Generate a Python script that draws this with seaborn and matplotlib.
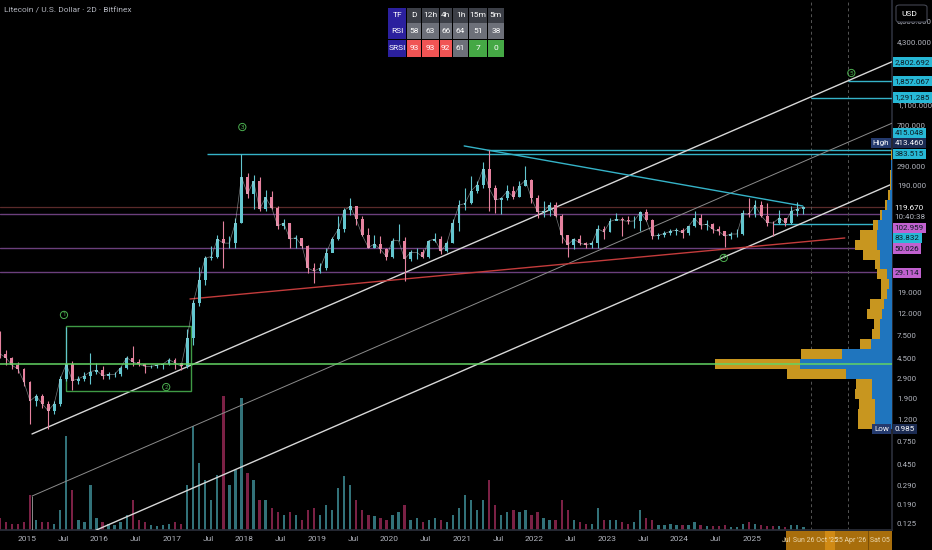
import numpy as np
import pandas as pd
import matplotlib
matplotlib.use("Agg")
import matplotlib.pyplot as plt
import seaborn as sns
from matplotlib.patches import Rectangle, FancyBboxPatch

# ---------------- data ----------------
start_month = "2014-08-01"
end_month = "2025-09-01"

close = [5.0, 4.6, 3.9, 3.6, 2.7,
         1.8, 2.0, 1.7, 1.45, 1.7, 2.9, 4.0, 2.8, 2.9, 3.1, 3.4, 3.5,
         3.1, 3.2, 3.2, 3.7, 4.6, 4.2, 4.0, 3.8, 3.8, 3.9, 4.0, 4.4,
         4.1, 3.8, 7.0, 15.0, 25, 40, 41, 60, 55, 55, 86, 230,
         160, 210, 115, 148, 118, 80, 85, 60, 62, 52, 32, 30,
         32, 44, 60, 74, 112, 122, 92, 65, 50, 54, 48, 41,
         58, 58, 39, 45, 45, 41, 58, 60, 46, 55, 85, 125,
         130, 170, 195, 275, 180, 140, 145, 170, 150, 190, 215, 145,
         108, 110, 125, 100, 65, 53, 60, 55, 53, 55, 75, 70,
         88, 92, 90, 88, 89, 107, 90, 64, 65, 68, 71, 73,
         69, 79, 94, 81, 83, 74, 71, 64, 67, 67, 105, 103,
         125, 100, 86, 85, 95, 86, 110, 115, 119.67]
high = [8.2, 5.4, 4.7, 4.2, 3.7,
        2.8, 2.1, 2.1, 1.8, 1.8, 3.1, 8.9, 4.3, 3.1, 3.4, 5.1, 4.1,
        3.8, 3.4, 3.4, 3.8, 4.8, 5.9, 4.5, 4.0, 3.9, 4.0, 4.1, 4.6,
        4.6, 4.0, 8.5, 16, 33, 42, 52, 66, 88, 64, 95, 383.5,
        250, 240, 230, 175, 170, 122, 92, 86, 66, 60, 53, 36,
        36, 50, 63, 98, 118, 145, 124, 100, 76, 65, 64, 50,
        62, 84, 63, 47, 49, 48, 59, 68, 64, 58, 92, 140,
        180, 238, 210, 320, 413.46, 195, 150, 192, 190, 210, 295, 223,
        155, 138, 135, 134, 103, 63, 62, 65, 56, 57, 82, 80,
        94, 105, 97, 100, 98, 111, 114, 92, 68, 72, 75, 77,
        77, 80, 110, 104, 90, 85, 79, 72, 70, 74, 112, 147,
        140, 137, 130, 89, 112, 95, 124, 134, 122]
low = [4.6, 3.9, 3.6, 3.3, 2.5,
       1.1, 1.6, 1.55, 0.985, 1.35, 1.6, 2.8, 2.3, 2.6, 2.8, 2.6, 3.2,
       2.9, 2.9, 3.0, 3.1, 3.6, 3.8, 3.8, 3.3, 3.7, 3.7, 3.6, 3.9,
       3.6, 3.5, 3.7, 6.0, 14, 22, 38, 40, 32, 49, 50, 85,
       145, 115, 110, 110, 115, 75, 75, 50, 50, 49, 29, 23,
       29, 31, 45, 59, 70, 101, 82, 64, 49, 49, 44, 38,
       40, 57, 24, 37, 39, 40, 40, 56, 43, 45, 55, 72,
       112, 128, 164, 180, 110, 105, 104, 140, 142, 150, 190, 130,
       95, 97, 100, 97, 55, 41, 48, 53, 50, 50, 50, 60,
       70, 90, 64, 84, 77, 71, 88, 60, 60, 63, 66, 66,
       61, 66, 78, 75, 73, 68, 65, 51, 60, 63, 65, 97,
       96, 96, 80, 64, 84, 79, 84, 100, 104]
volume = [12, 8, 6, 6, 8,
          35, 10, 8, 8, 6, 20, 94, 40, 10, 8, 45, 12,
          8, 6, 5, 8, 15, 30, 10, 8, 5, 4, 5, 6,
          8, 6, 45, 104, 67, 50, 30, 55, 134, 45, 60, 132,
          57, 50, 30, 30, 22, 18, 15, 18, 15, 10, 20, 22,
          15, 25, 20, 42, 54, 45, 30, 20, 15, 14, 12, 10,
          15, 18, 25, 10, 12, 8, 10, 12, 10, 8, 15, 22,
          35, 30, 20, 30, 50, 25, 15, 18, 20, 18, 20, 15,
          18, 12, 10, 10, 30, 20, 10, 8, 6, 6, 22, 10,
          10, 10, 8, 6, 8, 20, 12, 10, 5, 5, 6, 5,
          5, 5, 8, 5, 4, 4, 4, 5, 3, 3, 6, 8,
          6, 5, 4, 4, 4, 3, 5, 5, 3]
first_open = 7.5

# volume profile (28 log rows from the low to the high)
vp_low, vp_high = 0.985, 413.46
vp_up = [17, 17, 17, 20, 20, 46, 92, 50, 21, 12, 12, 10, 8, 5,
         3, 5, 12, 12, 15, 15, 14, 10, 5, 2, 1.2, 0.8, 0.6, 0.5]
vp_down = [17, 17, 16, 17, 16, 59, 85, 41, 11, 8, 6, 15, 14, 6,
           8, 10, 5, 17, 22, 17, 5, 2, 2, 2, 1.0, 1.0, 0.6, 0.4]

# horizontal levels
purple_levels = [102.959, 50.026, 29.114]
current_price = 119.670
green_level = 4.0
cyan_2017_high = 383.515
cyan_2021_high = 413.460
cyan_support = 83.832
target_1 = 1291.285
target_2 = 1857.067
target_top = 2802.692
target_mid = 415.048

# drawn trend lines (decimal year, price)
channel_top = [(2015.069, 0.879), (2026.931, 2802.692)]
channel_mid = [(2015.069, 0.229), (2026.931, 740.0)]
channel_bot = [(2015.069, 0.0598), (2026.931, 198.0)]
red_line = [(2017.248, 16.4), (2026.28, 61.5)]
cyan_down = [(2021.03, 452.0), (2025.70, 123.0)]
box1 = [(2015.538, 2.23), (2017.262, 9.13)]
wave_labels = ["1", "2", "3", "4", "5"]
wave_pos = [(2015.51, 11.6), (2016.92, 2.43), (2017.97, 681), (2024.61, 39.9), (2026.37, 2196)]
dash_dates = [2025.82, 2026.32]
start_2017h, start_2021h, start_support = 2017.48, 2021.35, 2025.29

right_ticks = [6800, 4300, 1100, 700, 290, 190, 19, 12, 7.5, 4.5, 2.9, 1.9, 1.2,
               0.75, 0.45, 0.29, 0.19, 0.125]
x_tick_years = list(range(2015, 2026))

tf_cols = ["D", "12h", "4h", "1h", "15m", "5m"]
rsi_vals = [58, 63, 66, 64, 51, 38]
srsi_vals = [93, 93, 92, 61, 7, 0]

date_strip = ["Jul", "Sun 26 Oct '25", "25 Apr '26", "Sat 05"]

# ---------------- style ----------------
sns.set_theme(style="dark")
plt.rcParams["font.family"] = ["Liberation Sans Narrow", "Roboto", "DejaVu Sans"]
BG = "#000000"
TXT = "#b2b5be"
FS = 6.0
W, H = 932, 550
fig = plt.figure(figsize=(W / 100, H / 100), dpi=100, facecolor=BG)
ax_right_px, ax_bottom_px = 892, 530
ax = fig.add_axes([0, (H - ax_bottom_px) / H, ax_right_px / W, ax_bottom_px / H])
ax2 = ax.twinx()
ax.set_zorder(2)
ax2.set_zorder(1)
ax.patch.set_visible(False)
ax2.axis("off")

months = pd.date_range(start_month, end_month, freq="MS")
t = np.array(months.year + (months.month - 1) / 12 + 0.5 / 12)
close_a = np.array(close)
open_a = np.concatenate([[first_open], close_a[:-1]])
up = close_a >= open_a
UPC, DNC = "#63c6cf", "#e6829f"
cols = np.where(up, UPC, DNC)

# volume (behind)
vcols = np.where(up, "#3f8f98", "#9b2a57")
ax2.bar(t, volume, width=0.032, color=vcols, alpha=0.8, linewidth=0)
ax2.set_ylim(0, 530)

XL = (2014.6276, 2026.931)
YL = (0.1097, 10686)

# lines
ax.set_yscale("log")
for p in purple_levels:
    ax.axhline(p, color="#6b3f7c", lw=1.0, zorder=1)
ax.axhline(current_price, color="#5a2a2a", lw=0.9, zorder=1)
ax.axhline(green_level, color="#63d463", lw=1.1, zorder=7)
ax.hlines(cyan_2017_high, start_2017h, XL[1], color="#35b3c8", lw=1.0, zorder=3)
ax.hlines(cyan_2021_high, start_2021h, XL[1], color="#35b3c8", lw=1.0, zorder=3)
ax.hlines(cyan_support, start_support, XL[1], color="#35b3c8", lw=1.0, zorder=3)
ax.hlines(target_1, dash_dates[0], XL[1], color="#35b3c8", lw=1.0, zorder=3)
ax.hlines(target_2, dash_dates[1], XL[1], color="#35b3c8", lw=1.0, zorder=3)
for d in dash_dates:
    ax.axvline(d, color="#555555", lw=0.7, ls=(0, (3, 3)), zorder=1)

def seg(pts, **kw):
    (x0, y0), (x1, y1) = pts
    ax.plot([x0, x1], [y0, y1], **kw)

seg(channel_top, color="#d8d8d8", lw=1.0, zorder=3)
seg(channel_mid, color="#8c8c8c", lw=0.7, zorder=3)
seg(channel_bot, color="#d8d8d8", lw=1.0, zorder=3)
ax.vlines(channel_mid[0][0], YL[0], channel_mid[0][1], color="#8c8c8c", lw=0.7, zorder=3)
seg(red_line, color="#c43c3c", lw=1.0, zorder=3)
seg(cyan_down, color="#35b3c8", lw=1.0, zorder=3)
(bx0, by0), (bx1, by1) = box1
ax.add_patch(Rectangle((bx0, by0), bx1 - bx0, by1 - by0, fill=False, ec="#3f9a45", lw=1.0, zorder=3))

# candles
ax.vlines(t, low, high, color=cols, lw=0.8, zorder=4)
ax.bar(t, np.abs(close_a - open_a), bottom=np.minimum(open_a, close_a), width=0.04,
       color=cols, linewidth=0, zorder=4)
sns.lineplot(x=t, y=close_a, ax=ax, color="#cfd8dc", lw=0.5, alpha=0.55, zorder=4)

# volume profile
vp = ax.inset_axes([700 / ax_right_px, 0, 192 / ax_right_px, 1], sharey=ax, zorder=5)
vp.patch.set_visible(False)
edges = np.logspace(np.log10(vp_low), np.log10(vp_high), len(vp_up) + 1)
vp.barh(edges[:-1], vp_up, height=np.diff(edges), align="edge", color="#1f75be", linewidth=0)
vp.barh(edges[:-1], vp_down, left=vp_up, height=np.diff(edges), align="edge",
        color="#c8961f", linewidth=0)
vp.set_xlim(192, 0)
vp.axis("off")

# wave labels
for lab, (x, y) in zip(wave_labels, wave_pos):
    ax.text(x, y, lab, color="#4caf50", fontsize=4.5, ha="center", va="center", zorder=8,
            bbox=dict(boxstyle="circle,pad=0.18", fc="none", ec="#4caf50", lw=0.7))

ax.set_xlim(*XL)
ax.set_ylim(*YL)

# axes styling
ax.yaxis.tick_right()
ax.set_yticks(right_ticks)
ax.set_yticklabels([f"{v:,.3f}" for v in right_ticks])
ax.minorticks_off()
ax.tick_params(axis="y", length=0, pad=3.5, labelsize=5.7, labelcolor=TXT)
xt, xl = [], []
for yv in x_tick_years:
    xt.append(yv)
    xl.append(str(yv))
    if yv < x_tick_years[-1]:
        xt.append(yv + 0.5)
        xl.append("Jul")
ax.set_xticks(xt)
ax.set_xticklabels(xl)
ax.tick_params(axis="x", length=0, pad=4, labelsize=FS, labelcolor=TXT)
ax.grid(False)
for s in ["top", "left"]:
    ax.spines[s].set_visible(False)
ax.spines["right"].set_color("#2a2e39")
ax.spines["bottom"].set_color("#2a2e39")
ax.set_xlabel("")
ax.set_ylabel("")

# right price labels
ytr = ax.get_yaxis_transform()
LFS = 5.8

def plabel(price, text, fc, tc="#0b1a22", dy=0):
    ax.annotate(text, xy=(1, price), xycoords=ytr, xytext=(2.0, -dy * 0.72),
                textcoords="offset points", ha="left", va="center", fontsize=LFS,
                color=tc, annotation_clip=False, zorder=10,
                bbox=dict(boxstyle="square,pad=0.25", fc=fc, ec="none"))

CY = "#27b8d6"
MG = "#c161cf"
plabel(target_top, f"{target_top:,.3f}", CY)
plabel(target_2, f"{target_2:,.3f}", CY)
plabel(target_1, f"{target_1:,.3f}", CY)
plabel(target_mid, f"{target_mid:,.3f}", CY, dy=-17)
plabel(cyan_2021_high, f"{cyan_2021_high:,.3f}", "#1b2b52", tc="white", dy=-7)
plabel(cyan_2017_high, f"{cyan_2017_high:,.3f}", CY)
plabel(current_price, f"{current_price:,.3f}", "#000000", tc="white", dy=1)
plabel(current_price, "10:40:38", "#000000", tc=TXT, dy=10)
plabel(purple_levels[0], f"{purple_levels[0]:,.3f}", MG, dy=14)
plabel(cyan_support, f"{cyan_support:,.3f}", CY, dy=14)
plabel(purple_levels[1], f"{purple_levels[1]:,.3f}", MG, dy=1)
plabel(purple_levels[2], f"{purple_levels[2]:,.3f}", MG, dy=1)
plabel(vp_low, f"{vp_low:,.3f}", "#1b2b52", tc="white")
ax.annotate("High", xy=(1, cyan_2021_high), xycoords=ytr, xytext=(-2.0, 7 * 0.72),
            textcoords="offset points", ha="right", va="center", fontsize=LFS, color="white",
            annotation_clip=False, zorder=10, bbox=dict(boxstyle="square,pad=0.25", fc="#243a6e", ec="none"))
ax.annotate("Low", xy=(1, vp_low), xycoords=ytr, xytext=(-2.0, 0),
            textcoords="offset points", ha="right", va="center", fontsize=LFS, color="white",
            annotation_clip=False, zorder=10, bbox=dict(boxstyle="square,pad=0.25", fc="#243a6e", ec="none"))

# ---------- figure-level decorations ----------
def frect(x0, y0, x1, y1, color, z=20):
    fig.add_artist(Rectangle((x0 / W, 1 - y1 / H), (x1 - x0) / W, (y1 - y0) / H,
                             transform=fig.transFigure, color=color, zorder=z, lw=0))

def ftext(x, y, s, color="white", size=FS, ha="center"):
    fig.text(x / W, 1 - y / H, s, color=color, fontsize=size, ha=ha, va="center", zorder=25)

fig.text(4 / W, 1 - 10 / H, "Litecoin / U.S. Dollar · 2D · Bitfinex", color=TXT,
         fontsize=FS, ha="left", va="center")

# date strip
frect(786, 531, 892, 550, "#a86e0c")
frect(825, 531, 835, 550, "#d08a14", z=21)
frect(868, 531, 869, 550, "#7a4f08", z=21)
SC = "#ead6ab"
ftext(791, 541, date_strip[0], color=SC, size=5.0, ha="right")
ftext(793, 541, date_strip[1], color=SC, size=5.0, ha="left")
ftext(851, 541, date_strip[2], color=SC, size=5.0)
ftext(880, 541, date_strip[3], color=SC, size=5.0)

# USD button
fig.add_artist(FancyBboxPatch((896 / W, 1 - 22 / H), 31 / W, 17 / H,
                              boxstyle="round,pad=0,rounding_size=0.004",
                              transform=fig.transFigure, fc="#000000", ec="#434651", lw=0.8, zorder=20))
ftext(901, 13.5, "USD", color="white", size=FS, ha="left")

# RSI table
col_x = [388, 406.5, 421, 439, 452.5, 468.5, 487.5, 504.5]
row_y = [7, 23, 39.5, 57]
TFC, HDR, GRY, RED, GRN = "#2b209e", "#3c3f47", "#6d7079", "#f05454", "#45a845"
row_labels = ["TF", "RSI", "SRSI"]
for r in range(3):
    frect(col_x[0], row_y[r] + 0.5, col_x[1] - 0.5, row_y[r + 1] - 0.5, TFC)
    ftext((col_x[0] + col_x[1]) / 2, (row_y[r] + row_y[r + 1]) / 2, row_labels[r])
for c in range(6):
    x0, x1 = col_x[c + 1] + 0.5, col_x[c + 2] - 0.5
    cells = [(tf_cols[c], HDR), (str(rsi_vals[c]), GRY)]
    sv = srsi_vals[c]
    cells.append((str(sv), RED if sv >= 80 else (GRN if sv <= 20 else GRY)))
    for r, (s, colr) in enumerate(cells):
        frect(x0, row_y[r] + 0.5, x1, row_y[r + 1] - 0.5, colr)
        ftext((x0 + x1) / 2, (row_y[r] + row_y[r + 1]) / 2, s)

fig.savefig("out.png", dpi=100, facecolor=BG)
